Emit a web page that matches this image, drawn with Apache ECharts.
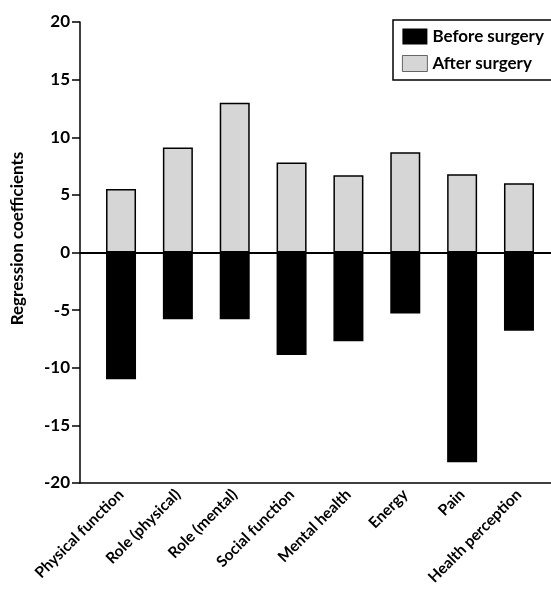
<!DOCTYPE html>
<html><head><meta charset="utf-8">
<script src="https://cdn.jsdelivr.net/npm/echarts@6/dist/echarts.min.js"></script>
<style>html,body{margin:0;padding:0;background:#fff}#c{width:551px;height:600px}</style>
</head><body><div id="c"></div>
<script>
var categories = ['Physical function','Role (physical)','Role (mental)','Social function','Mental health','Energy','Pain','Health perception'];
var beforeSurgery = [-11.0, -5.8, -5.8, -8.9, -7.7, -5.3, -18.2, -6.8];
var afterSurgery = [5.5, 9.1, 13.0, 7.8, 6.7, 8.7, 6.8, 6.0];
var yTicks = {min: -20, max: 20, interval: 5};

var FONT = 'Lato';
var chart = echarts.init(document.getElementById('c'), null, {renderer: 'canvas'});
var zeroColors = [];
for (var v = yTicks.min; v <= yTicks.max; v += yTicks.interval) zeroColors.push(v === 0 ? '#000' : 'rgba(0,0,0,0)');

chart.setOption({
  animation: false,
  backgroundColor: '#fff',
  textStyle: {fontFamily: FONT},
  legend: {
    orient: 'vertical', left: 393, top: 20,
    padding: [8, 20, 8, 9], itemGap: 10,
    borderColor: '#000', borderWidth: 1.5,
    itemWidth: 25, itemHeight: 16, icon: 'rect',
    textStyle: {fontFamily: FONT, fontSize: 17, fontWeight: 'bold', color: '#000'},
    data: [
      {name: 'Before surgery'},
      {name: 'After surgery', itemStyle: {borderWidth: 0.8, borderColor: '#444'}}
    ]
  },
  grid: [
    {left: 92.6, right: 3.6, top: 22, bottom: 117},
    {left: 80, right: 0, top: 22, bottom: 117}
  ],
  xAxis: [
    {type: 'category', gridIndex: 0, data: categories,
     axisLine: {show: false},
     axisTick: {show: true, alignWithLabel: true, length: 6, lineStyle: {color: '#000', width: 1.5}},
     axisLabel: {rotate: 45, margin: 9, color: '#000', fontFamily: FONT, fontSize: 15.5, fontWeight: 'bold', interval: 0}},
    {type: 'value', gridIndex: 1, min: 0, max: 1, position: 'bottom',
     axisLine: {show: true, onZero: false, lineStyle: {color: '#000', width: 1.5}},
     axisTick: {show: false}, axisLabel: {show: false}, splitLine: {show: false}}
  ],
  yAxis: [
    {type: 'value', gridIndex: 0, min: yTicks.min, max: yTicks.max, interval: yTicks.interval, show: false},
    {type: 'value', gridIndex: 1, min: yTicks.min, max: yTicks.max, interval: yTicks.interval,
     name: 'Regression coefficients', nameLocation: 'middle', nameGap: 54,
     nameTextStyle: {color: '#000', fontFamily: FONT, fontSize: 17, fontWeight: 'bold', padding: [0, 0, 0, 28]},
     axisLine: {show: true, lineStyle: {color: '#000', width: 1.5}},
     axisTick: {show: true, length: 8, lineStyle: {color: '#000', width: 1.5}},
     axisLabel: {color: '#000', fontFamily: FONT, fontSize: 17, fontWeight: 'bold', margin: 10},
     splitLine: {show: true, lineStyle: {color: zeroColors, width: 2}}}
  ],
  series: [
    {name: 'Before surgery', type: 'bar', xAxisIndex: 0, yAxisIndex: 0, data: beforeSurgery,
     barWidth: 30, barGap: '-100%', itemStyle: {color: '#000'}},
    {name: 'After surgery', type: 'bar', xAxisIndex: 0, yAxisIndex: 0, data: afterSurgery,
     barWidth: 30, itemStyle: {color: '#d6d6d6', borderColor: '#000', borderWidth: 1.5}}
  ]
});
</script></body></html>
